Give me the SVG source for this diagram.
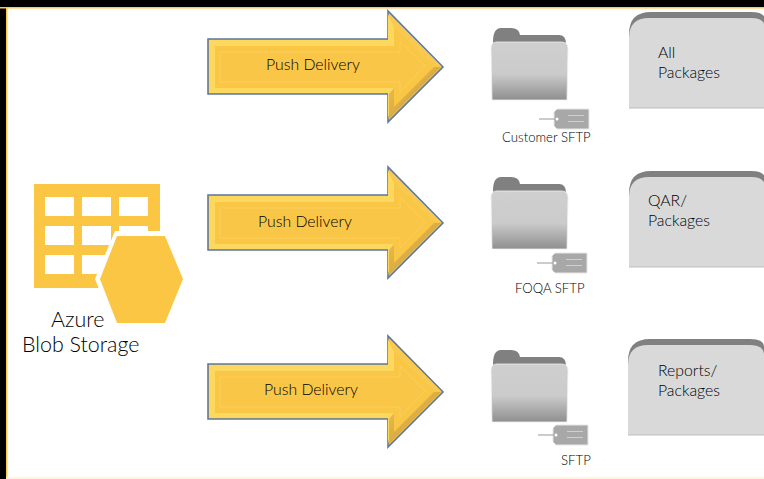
<svg xmlns="http://www.w3.org/2000/svg" width="764" height="479" viewBox="0 0 764 479">
<style>
text{font-family:"Lato","Liberation Sans",sans-serif;fill:#000;font-weight:300}
.l{font-size:15.800px}.s{font-size:13.200px}.b{font-size:21.400px}
.o{fill:#f9c646;stroke:#5f789f;stroke-width:1.600}
.i{fill:#fac648;stroke:#fccf58;stroke-width:1}
</style>
<defs>
<linearGradient id="fg" x1="0" y1="0" x2="0" y2="1"><stop offset="0" stop-color="#cfcfcf"/><stop offset=".55" stop-color="#cbcbcb"/><stop offset="1" stop-color="#8f8f8f"/></linearGradient>
<linearGradient id="dg" x1="0" y1="0" x2="1" y2="1"><stop offset="0" stop-color="#f2c24c"/><stop offset="1" stop-color="#c2963a"/></linearGradient>
<g id="arrow">
<path class="o" d="M0 28H180V0L235 56L180 111V83H0Z"/>
<path fill="#fdd85e" d="M1 29H180V3L186 16V35H7V77H186V83L180 108V82H1Z"/>
<path fill="url(#dg)" d="M186 77V96L226 56H233L181 108V83Z"/>
<path fill="#f9c950" d="M181 3L233 55H226L186 16Z"/>
<path class="i" d="M12 41H192V30L217 55L192 81V71H12Z"/>
</g>
<g id="folder">
<path fill="#808080" d="M2 14Q2 0 10 0H20Q28 0 29 7H68Q75 7 75 16V30H2Z"/>
<path fill="url(#fg)" stroke="#f0f0f0" stroke-width=".8" d="M0 20Q0 14 6 14H70Q77 14 77 20L76 72H1Z"/>
</g>
<g id="tag">
<path d="M18 0H50V20H18L15 17V3Z" fill="#a8a8a8" stroke="#e6e6e6"/>
<path d="M0 10H17" stroke="#999" fill="none"/>
<circle cx="18" cy="10" r="1.500" fill="#fff"/>
<path d="M29 6.500H45M29 12.500H45" stroke="#cfcfcf" fill="none"/>
</g>
<g id="tab">
<path fill="#808080" d="M0 96V22Q0 0 22 0H122Q136 0 136 8V96Z"/>
<path fill="#d9d9d9" d="M0 96V26Q0 6 20 6H122Q136 6 136 16V96Z"/>
<path d="M0 96H136" stroke="#bdbdbd" fill="none"/>
</g>
</defs>
<rect width="764" height="479" fill="#fff"/>
<rect width="764" height="7" fill="#000"/>
<rect width="6" height="479" fill="#000"/>
<rect x="0" y="7" width="764" height="1.500" fill="#fcc94a"/>
<rect x="6" y="7" width="1.500" height="472" fill="#fcc94a"/>
<rect x="6" y="477" width="758" height="2" fill="#fff5dc"/>

<g id="connectors"/>

<g id="azure-blob-storage">
<rect x="34" y="184" width="126" height="104" fill="#fcc645"/>
<g fill="#fff">
<rect x="45" y="197" width="29" height="19"/><rect x="82" y="197" width="29" height="19"/><rect x="119" y="197" width="29" height="19"/>
<rect x="45" y="226" width="29" height="19"/><rect x="82" y="226" width="29" height="19"/><rect x="119" y="226" width="29" height="19"/>
<rect x="45" y="255" width="29" height="19"/><rect x="82" y="255" width="29" height="19"/>
</g>
<path d="M115 231H167L188 279L167 328H115L95 279Z" fill="#fff"/>
<path d="M117 236H165L183 279L165 323H117L100 279Z" fill="#fcc645"/>
<text class="b" x="51" y="327">Azure</text>
<text class="b" x="22" y="352">Blob Storage</text>
</g>

<g id="delivery-1"><use href="#arrow" x="208" y="11"/><text class="l" x="266" y="70">Push Delivery</text></g>
<g id="delivery-2"><use href="#arrow" x="208" y="167"/><text class="l" x="258" y="227">Push Delivery</text></g>
<g id="delivery-3"><use href="#arrow" x="208" y="336"/><text class="l" x="264" y="395">Push Delivery</text></g>

<g id="customer-sftp"><use href="#folder" x="491" y="28"/><use href="#tag" x="539" y="109"/><text class="s" x="502" y="142">Customer SFTP</text></g>
<g id="foqa-sftp"><use href="#folder" x="491" y="177"/><use href="#tag" x="537" y="253"/><text class="s" x="515" y="293">FOQA SFTP</text></g>
<g id="sftp"><use href="#folder" x="491" y="350"/><use href="#tag" x="538" y="425"/><text class="s" x="561" y="465">SFTP</text></g>

<g id="all-packages"><use href="#tab" x="629" y="12"/><text class="l" x="658" y="58">All</text><text class="l" x="658" y="78">Packages</text></g>
<g id="qar-packages"><use href="#tab" x="629" y="171"/><text class="l" x="648" y="206">QAR/</text><text class="l" x="648" y="226">Packages</text></g>
<g id="reports-packages"><use href="#tab" x="628" y="339"/><text class="l" x="658" y="376">Reports/</text><text class="l" x="658" y="396">Packages</text></g>
</svg>
